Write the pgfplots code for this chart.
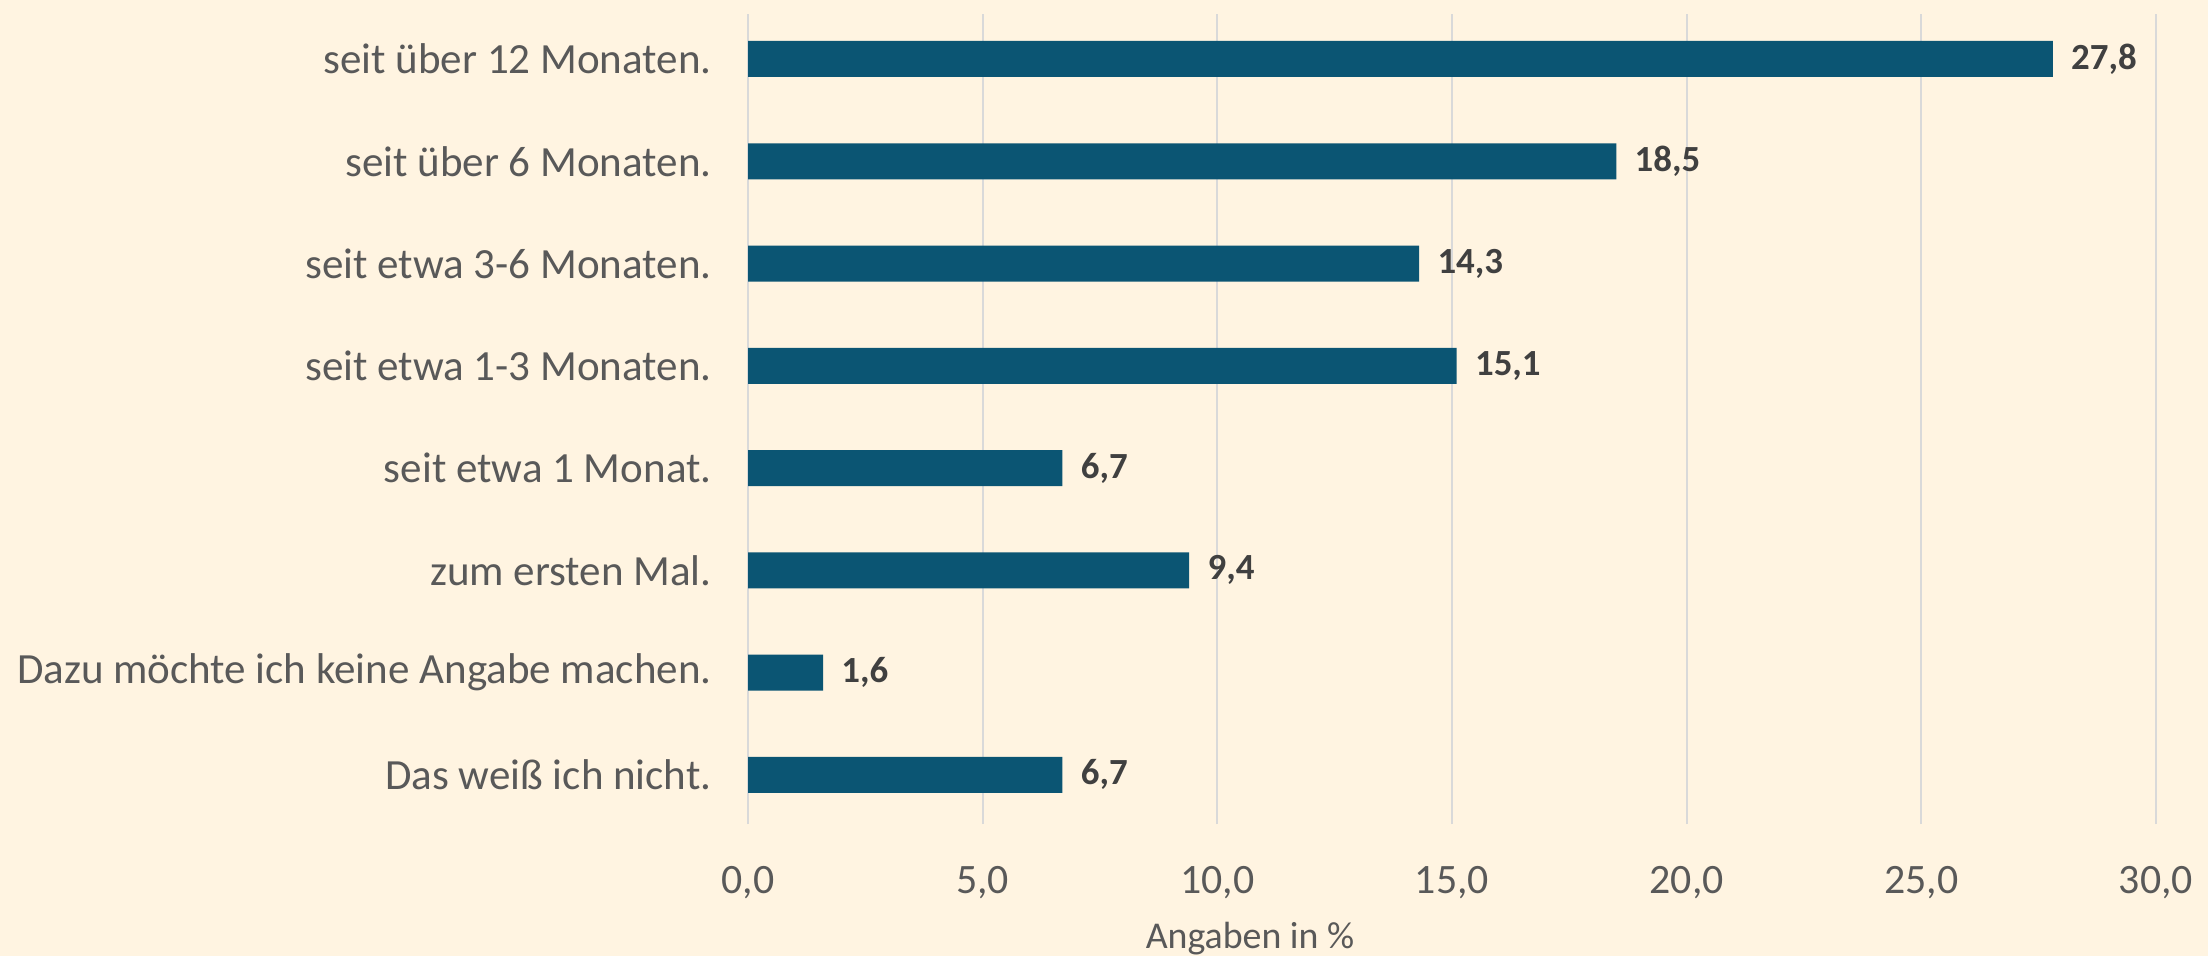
\documentclass[border=0pt]{standalone}
\usepackage{fontspec}
\setmainfont{Carlito}
\usepackage{pgfplots}
\pgfplotsset{compat=1.18}
\definecolor{bg}{RGB}{255,244,225}
\definecolor{barc}{RGB}{11,85,115}
\definecolor{lbl}{RGB}{89,89,89}
\definecolor{val}{RGB}{64,64,64}
\definecolor{gridc}{RGB}{217,217,217}
\begin{document}
\begin{tikzpicture}
\fill[bg] (0,0) rectangle (1104bp,478bp);
\useasboundingbox (0,0) rectangle (1104bp,478bp);
\begin{axis}[
  at={(374bp,66bp)}, anchor=south west,
  scale only axis, width=704bp, height=405bp,
  xbar, bar width=18bp,
  xmin=0, xmax=30, ymin=-0.48, ymax=7.44,
  xtick={0,5,...,30},
  ytick={0,...,7},
  yticklabels={Das weiß ich nicht., Dazu möchte ich keine Angabe machen., zum ersten Mal., seit etwa 1 Monat., seit etwa 1-3 Monaten., seit etwa 3-6 Monaten., seit über 6 Monaten., seit über 12 Monaten.},
  axis line style={draw=none},
  major tick length=0pt,
  xmajorgrids, major grid style={draw=gridc, line width=0.9bp},
  /pgf/number format/use comma,
  /pgf/number format/fixed,
  /pgf/number format/fixed zerofill,
  /pgf/number format/precision=1,
  /pgf/number format/assume math mode=true,
  xticklabel style={inner sep=0pt, anchor=north, yshift=-21bp, font=\fontsize{21}{21}\selectfont, text=lbl},
  yticklabel style={inner sep=0pt, anchor=east, xshift=-18bp, font=\fontsize{21.6}{21.6}\selectfont, text=lbl},
  xlabel={Angaben in \%},
  xlabel style={at={(rel axis cs:0.3565,0)}, anchor=base, inner sep=0pt, yshift=-62bp, font=\fontsize{19}{19}\selectfont, text=lbl},
  nodes near coords,
  nodes near coords style={inner sep=0pt, anchor=west, xshift=9bp, font=\bfseries\fontsize{18.5}{18.5}\selectfont, text=val},
]
\addplot[fill=barc, draw=none] coordinates {
  (6.7,0) (1.6,1) (9.4,2) (6.7,3) (15.1,4) (14.3,5) (18.5,6) (27.8,7)
};
\end{axis}
\end{tikzpicture}
\end{document}
